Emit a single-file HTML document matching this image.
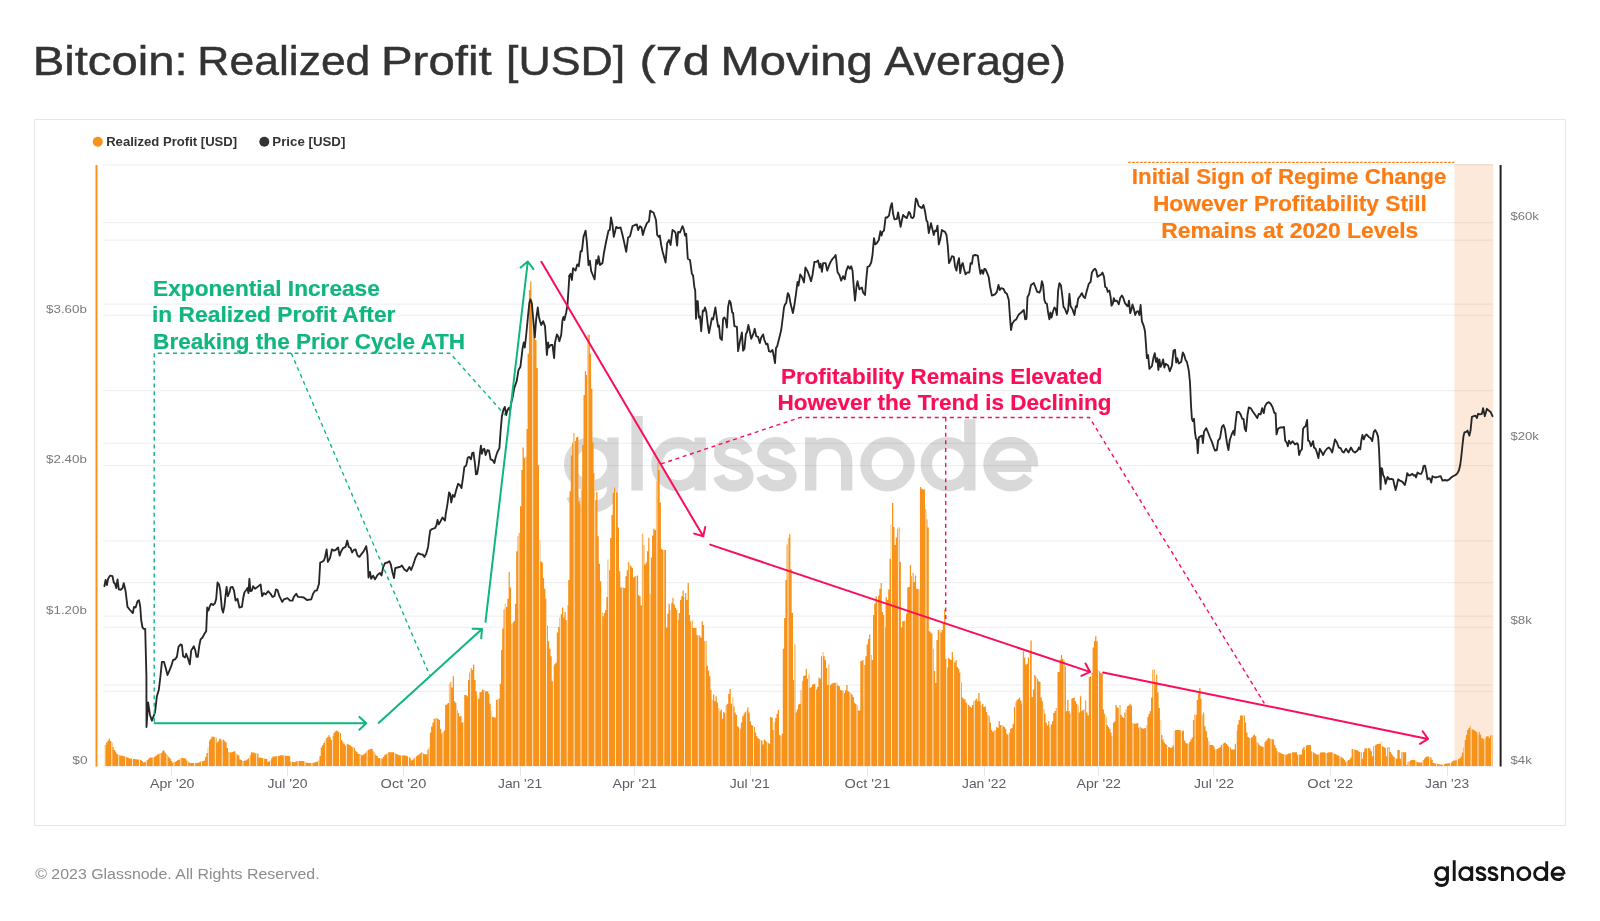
<!DOCTYPE html><html><head><meta charset="utf-8"><title>Bitcoin: Realized Profit</title>
<style>html,body{margin:0;padding:0;background:#fff;}body{width:1600px;height:921px;overflow:hidden;}svg{display:block;}text{font-family:"Liberation Sans",sans-serif;}</style></head><body>
<svg width="1600" height="921" viewBox="0 0 1600 921">
<rect width="1600" height="921" fill="#fff"/>
<rect x="34.5" y="119.5" width="1531" height="706" fill="none" stroke="#e6e6e6" stroke-width="1"/>
<circle cx="97.8" cy="141.8" r="5" fill="#f7931a"/>
<circle cx="264.3" cy="141.8" r="5" fill="#333"/>
<rect x="1454.5" y="164" width="38.8" height="602" fill="#fde9d9"/>
<path d="M103,164.9H1493.5M103,222.7H1493.5M103,240.1H1493.5M103,304.1H1493.5M103,315.3H1493.5M103,390.5H1493.5M103,443.3H1493.5M103,465.7H1493.5M103,540.9H1493.5M103,582.5H1493.5M103,616.1H1493.5M103,627.3H1493.5M103,685H1493.5M103,691.3H1493.5M103,766.5H1493.5" stroke="#000" stroke-opacity="0.06" stroke-width="1.25" fill="none"/>
<path d="M171.5,766V776M287.5,766V776M403.5,766V776M520.5,766V776M634.5,766V776M750.5,766V776M867.5,766V776M984.5,766V776M1098.5,766V776M1213.5,766V776M1330.5,766V776M1447.5,766V776" stroke="#e6e6e6" stroke-width="1" fill="none"/>
<g opacity="0.15" stroke="#000" stroke-width="11.4" fill="none" stroke-linejoin="round" transform="translate(0,0.6)"><path d="M569.7,463.7a21.6,21.6 0 1 0 43.2,0a21.6,21.6 0 1 0 -43.2,0M612.9,437V486C612.9,499.5 603,506.3 591.3,506.3C582,506.3 575,502 571.5,495M637.1,415.5V490M656.9,463.7a21.6,21.6 0 1 0 43.2,0a21.6,21.6 0 1 0 -43.2,0M700.1,437V490M747.4,452.5C744.6,445.5 738.6,442.2 733.1,442.2C724.6,442.2 719.6,446.5 719.6,452.2C719.6,458.5 724.6,461 733.6,463.7C742.6,466.4 747.9,469 747.9,475.5C747.9,481.5 742.1,485.3 733.6,485.3C726.1,485.3 721.1,482 718.6,475.3M790.5,452.5C787.8,445.5 781.8,442.2 776.2,442.2C767.8,442.2 762.8,446.5 762.8,452.2C762.8,458.5 767.8,461 776.8,463.7C785.8,466.4 791,469 791,475.5C791,481.5 785.2,485.3 776.8,485.3C769.2,485.3 764.2,482 761.8,475.3M810.7,437V490M810.7,462C810.7,449 818,442.7 828.7,442.7C840,442.7 846.7,450 846.7,462V490M865.9,463.7a21.6,21.6 0 1 0 43.2,0a21.6,21.6 0 1 0 -43.2,0M926.3,463.7a21.6,21.6 0 1 0 43.2,0a21.6,21.6 0 1 0 -43.2,0M969.8,418.7V490M990.1,465.7H1031.3M1032.3,465.7A21.6,21.6 0 1 0 1028.4,476.1"/></g>
<clipPath id="bc"><path d="M104.8,766V745H106.1V742.4H107.4V740.5H108.7V738.5H109.9V741H111.2V742.5H112.5V747H113.7V750H115V751.4H116.3V754H117.5V754.5H118.8V755.3H120.1V755.5H121.4V755.8H122.6V756.1H123.9V756.5H125.2V756.8H126.4V757.3H127.7V757.8H129V758.5H130.2V758.6H131.5V758.8H132.8V758.9H134V759.1H135.3V759.2H136.6V759.4H137.9V759.6H139.1V759.8H140.4V760H141.7V761H142.9V762.5H144.2V761.9H145.5V761.5H146.7V759.9H148V758.7H149.3V757.5H150.6V757.5H151.8V757.5H153.1V757.5H154.4V756.5H155.6V755.4H156.9V754.4H158.2V753.9H159.4V753.5H160.7V753.1H162V751.3H163.2V750.3H164.5V752.5H165.8V754.3H167.1V755.6H168.3V757.3H169.6V758.5H170.9V760.9H172.1V762.5H173.4V762.2H174.7V762H175.9V760.9H177.2V760H178.5V759.4H179.8V758.4H181V757.8H182.3V758.1H183.6V758.3H184.8V758.5H186.1V760.6H187.4V761.5H188.6V762.6H189.9V763.1H191.2V763.1H192.4V763.1H193.7V763.1H195V763.1H196.3V763.1H197.5V762.8H198.8V762.3H200.1V761.5H201.3V761.3H202.6V760.9H203.9V760.6H205.1V757H206.4V753H207.7V747.5H209V740.6H210.2V738.7H211.5V736.5H212.8V736.8H214V737.2H215.3V737.5H216.6V742.5H217.8V740.9H219.1V738.5H220.4V739.6H221.6V740.6H222.9V739.4H224.2V741.2H225.5V742.5H226.7V748.1H228V751.9H229.3V752.2H230.5V752.5H231.8V752H233.1V751.5H234.3V751.2H235.6V753.8H236.9V754.7H238.2V755.6H239.4V759.4H240.7V760.1H242V761.2H243.2V760.9H244.5V760.5H245.8V760.2H247V759.3H248.3V758.1H249.6V755.5H250.8V752.2H252.1V752.4H253.4V752.5H254.7V753.5H255.9V753.5H257.2V753.5H258.5V757.5H259.7V757.7H261V757.9H262.3V758.1H263.5V758.5H264.8V758.8H266.1V759H267.4V761.9H268.6V761.3H269.9V760.6H271.2V758H272.4V756.5H273.7V756.4H275V756.3H276.2V756.2H277.5V756.1H278.8V755.7H280.1V755.2H281.3V755.3H282.6V755.4H283.9V755.6H285.1V755.7H286.4V755.9H287.7V756.1H288.9V756.2H290.2V761.5H291.5V761.8H292.7V762.1H294V762.2H295.3V761.6H296.6V761H297.8V761H299.1V761H300.4V761H301.6V761H302.9V761H304.2V761.7H305.4V762.8H306.7V762.8H308V762.9H309.3V763H310.5V763H311.8V763.1H313.1V762.7H314.3V762.3H315.6V761.9H316.9V761.4H318.1V760.6H319.4V755.9H320.7V747.5H321.9V745.2H323.2V743.1H324.5V740.9H325.8V738.1H327V737.2H328.3V735.2H329.6V737.3H330.8V740H332.1V735.9H333.4V733.1H334.6V731.6H335.9V730.6H337.2V731.2H338.5V732.2H339.7V733.1H341V740H342.3V742H343.5V743.8H344.8V745.6H346.1V744.5H347.3V743.8H348.6V745H349.9V745.6H351.1V746.6H352.4V747.4H353.7V747.8H355V750.8H356.2V751.9H357.5V753.8H358.8V754H360V754.5H361.3V755.2H362.6V754.8H363.8V753.8H365.1V752.8H366.4V751.2H367.7V749.8H368.9V749.4H370.2V749H371.5V748.8H372.7V751.2H374V752.6H375.3V755H376.5V756.1H377.8V758.1H379.1V758.2H380.3V758.3H381.6V758.5H382.9V757.1H384.2V755H385.4V754.2H386.7V753.3H388V752.2H389.2V752.2H390.5V752.2H391.8V752.2H393V752.2H394.3V753.3H395.6V754H396.9V754.5H398.1V755.1H399.4V755.6H400.7V755.5H401.9V755.4H403.2V755.2H404.5V755.6H405.7V756H407V756.2H408.3V757.3H409.6V758.1H410.8V760.6H412.1V759.8H413.4V758.5H414.6V757.5H415.9V756.2H417.2V755.2H418.4V754.4H419.7V753.3H421V752.2H422.2V753H423.5V754H424.8V754.2H426.1V754.4H427.3V749.7H428.6V747.5H429.9V732.5H431.1V726.4H432.4V722.5H433.7V718.8H434.9V718.4H436.2V718.1H437.5V719.1H438.8V720H440V728.8H441.3V733.8H442.6V732.1H443.8V730.6H445.1V705H446.4V704.2H447.6V703.1H448.9V683.8H450.2V681.9H451.4V687.5H452.7V676.2H454V701.2H455.3V703.1H456.5V710H457.8V713.1H459.1V716.2H460.3V716.2H461.6V722.5H462.9V721.9H464.1V695H465.4V695H466.7V696.2H468V680H469.2V672.5H470.5V668.1H471.8V670H473V664.4H474.3V680H475.6V691.2H476.8V695.7H478.1V698.8H479.4V692.5H480.6V691.7H481.9V689.4H483.2V690.1H484.5V691.2H485.7V691.2H487V691.2H488.3V693.8H489.5V703.8H490.8V711.2H492.1V716.9H493.3V717.2H494.6V717.5H495.9V700H497.2V699.5H498.4V698.8H499.7V683.8H501V650H502.2V628.6H503.5V609.4H504.8V603.8H506V606.9H507.3V598.8H508.6V572H509.8V587.5H511.1V623.8H512.4V622.5H513.7V621H514.9V603.8H516.2V551.2H517.5V536.2H518.7V533.1H520V506.2H521.3V470H522.5V447.5H523.8V458H525.1V456.9H526.4V429H527.6V353.8H528.9V290H530.2V281.2H531.4V300H532.7V320H534V337.5H535.2V340H536.5V368H537.8V465H539V540H540.3V561.2H541.6V562.5H542.9V578H544.1V588.8H545.4V598.8H546.7V625.6H547.9V641.2H549.2V648.8H550.5V656.2H551.7V681.2H553V666.2H554.3V663.9H555.6V662.5H556.8V632.5H558.1V626.9H559.4V617.5H560.6V614.2H561.9V607.5H563.2V617.4H564.4V611.9H565.7V620H567V605.6H568.2V580H569.5V491.2H570.8V455.6H572.1V442.5H573.3V433.1H574.6V441H575.9V437.5H577.1V436.8H578.4V501.2H579.7V503.8H580.9V490H582.2V445H583.5V395H584.8V371.2H586V375H587.3V335H588.6V334.4H589.8V353.8H591.1V388.8H592.4V442.5H593.6V473H594.9V500H596.2V492H597.5V536.2H598.7V563.8H600V581.2H601.3V612.5H602.5V616.2H603.8V613.1H605.1V610H606.3V596.9H607.6V559.4H608.9V570H610.1V538.1H611.4V515H612.7V493.1H614V487.5H615.2V491.9H616.5V492.5H617.8V527.5H619V571.2H620.3V587.5H621.6V587.6H622.8V587.8H624.1V588H625.4V576.2H626.7V570.3H627.9V561.9H629.2V564.4H630.5V566.2H631.7V568H633V577.5H634.3V576.6H635.5V576H636.8V575.6H638.1V595H639.3V596.2H640.6V605.4H641.9V533.8H643.2V545H644.4V564.4H645.7V562.5H647V551.2H648.2V538.1H649.5V594H650.8V557.5H652V535.6H653.3V528.8H654.6V530H655.9V481.2H657.1V462H658.4V470H659.7V502.5H660.9V548.8H662.2V550H663.5V550H664.7V550H666V627.5H667.3V613.8H668.5V603.8H669.8V610H671.1V603H672.4V598.1H673.6V604.4H674.9V607.8H676.2V610H677.4V620H678.7V613.1H680V600H681.2V596.2H682.5V590.6H683.8V597.5H685.1V593.1H686.3V600H687.6V583.1H688.9V615H690.1V621.2H691.4V620.6H692.7V628.1H693.9V628.1H695.2V628.1H696.5V635H697.7V635.4H699V635.6H700.3V637.5H701.6V621.2H702.8V625H704.1V641.2H705.4V641.2H706.6V665.7H707.9V670.6H709.2V676.2H710.4V690H711.7V700H713V694.4H714.3V701.2H715.5V696.2H716.8V702.5H718.1V708.1H719.3V711.2H720.6V709.4H721.9V718.8H723.1V711.9H724.4V713H725.7V705H726.9V703.8H728.2V693.8H729.5V689H730.8V703.8H732V697.5H733.3V706.2H734.6V712.5H735.8V715H737.1V726.2H738.4V727.6H739.6V728.8H740.9V722.5H742.2V716.2H743.5V713.8H744.7V711.8H746V710H747.3V707.2H748.5V712.5H749.8V721.2H751.1V725H752.3V725.8H753.6V726.9H754.9V732.5H756.2V736H757.4V738.1H758.7V739.3H760V740.2H761.2V740.6H762.5V744.4H763.8V739.4H765V740.5H766.3V741.9H767.6V742.9H768.8V743.8H770.1V716.9H771.4V717.5H772.7V730H773.9V721.9H775.2V718.1H776.5V713.8H777.7V710H779V735H780.3V736.2H781.5V733.8H782.8V648.8H784.1V618.1H785.4V579.9H786.6V544.6H787.9V538H789.2V534H790.4V569H791.7V613.1H793V680H794.2V644.4H795.5V712.5H796.8V709.4H798V704.4H799.3V703.8H800.6V690H801.9V681.2H803.1V676H804.4V675.6H805.7V668.8H806.9V678.8H808.2V674.4H809.5V688.1H810.7V686.9H812V684.4H813.3V684.1H814.6V683.8H815.8V689.4H817.1V686.9H818.4V677.5H819.6V678.8H820.9V656.2H822.2V651.9H823.4V656.2H824.7V660H826V668.1H827.2V685H828.5V664.4H829.8V685H831.1V683.8H832.3V683.2H833.6V682.8H834.9V682.8H836.1V682.8H837.4V685.6H838.7V686.2H839.9V690H841.2V690.4H842.5V690.6H843.8V693.1H845V690.3H846.3V685H847.6V691.2H848.8V691.9H850.1V692.9H851.4V694.4H852.6V696.9H853.9V702.5H855.2V703.9H856.4V705H857.7V710.6H859V710.6H860.3V661.2H861.5V660.4H862.8V660H864.1V665H865.3V656.2H866.6V644.4H867.9V639.1H869.1V634.4H870.4V655H871.7V660H873V615H874.2V603.8H875.5V596.2H876.8V601H878V595.6H879.3V588.8H880.6V583.1H881.8V612H883.1V615H884.4V627.5H885.6V596.9H886.9V600H888.2V589.4H889.5V558.8H890.7V524.4H892V503.1H893.3V526.9H894.5V545H895.8V537.5H897.1V528.8H898.3V527.5H899.6V562H900.9V627.5H902.2V621.2H903.4V620.9H904.7V620.6H906V613.8H907.2V587.5H908.5V587H909.8V565H911V576H912.3V573.1H913.6V581.9H914.9V575.6H916.1V588.8H917.4V589.1H918.7V589.4H919.9V486.9H921.2V488.8H922.5V489.4H923.7V489.4H925V509.4H926.3V519.4H927.5V527.5H928.8V631.2H930.1V632.6H931.4V633.8H932.6V648.8H933.9V671H935.2V683.1H936.4V640H937.7V630.1H939V628.8H940.2V632.5H941.5V630H942.8V622.5H944.1V609.4H945.3V658.8H946.6V667.5H947.9V658.1H949.1V659.1H950.4V660H951.7V651.9H952.9V657.2H954.2V662.5H955.5V660H956.7V667H958V668.8H959.3V672.5H960.6V682.5H961.8V697.5H963.1V698.8H964.4V699.4H965.6V702.5H966.9V703.8H968.2V705H969.4V706.5H970.7V707.5H972V705H973.3V701.2H974.5V700.2H975.8V698.8H977.1V701.2H978.3V693.1H979.6V701.2H980.9V705.6H982.1V703.8H983.4V706.9H984.7V706.2H985.9V711.9H987.2V715H988.5V716.2H989.8V722.5H991V730H992.3V731.9H993.6V730.8H994.8V730H996.1V726.9H997.4V728.1H998.6V721.2H999.9V725H1001.2V725H1002.5V726.2H1003.7V726.9H1005V728.8H1006.3V733.8H1007.5V735H1008.8V732.7H1010.1V728.8H1011.3V728.1H1012.6V723.8H1013.9V706.9H1015.1V701.9H1016.4V700H1017.7V698.9H1019V697.5H1020.2V700.6H1021.5V703.8H1022.8V651.2H1024V657.5H1025.3V664.4H1026.6V663.8H1027.8V657.5H1029.1V653.8H1030.4V640.6H1031.7V696.9H1032.9V689.4H1034.2V675H1035.5V676.7H1036.7V678.8H1038V681.2H1039.3V681.9H1040.5V697.5H1041.8V701.2H1043.1V709.2H1044.4V713.8H1045.6V722.7H1046.9V725.6H1048.2V721.2H1049.4V727.5H1050.7V724.4H1052V721.2H1053.2V713.1H1054.5V711.1H1055.8V708.1H1057V671.9H1058.3V672H1059.6V659.4H1060.9V655H1062.1V658.8H1063.4V660H1064.7V666.2H1065.9V711.2H1067.2V700H1068.5V711H1069.7V713.8H1071V698.8H1072.3V698.1H1073.6V697.5H1074.8V701.2H1076.1V703.8H1077.4V705.6H1078.6V712.5H1079.9V696.2H1081.2V711.2H1082.4V710H1083.7V709.4H1085V700.6H1086.2V712.5H1087.5V715.6H1088.8V676.9H1090.1V676.2H1091.3V673.1H1092.6V647.5H1093.9V641.2H1095.1V636.2H1096.4V641.2H1097.7V670H1098.9V671.2H1100.2V673H1101.5V673.8H1102.8V709.4H1104V713.8H1105.3V717.5H1106.6V725H1107.8V726.9H1109.1V728.8H1110.4V732.5H1111.6V736.2H1112.9V722.8H1114.2V721.2H1115.4V705H1116.7V707.5H1118V707.9H1119.3V705H1120.5V715H1121.8V717H1123.1V718.1H1124.3V712.5H1125.6V709.4H1126.9V706.2H1128.1V705.4H1129.4V703.8H1130.7V705.6H1132V723.1H1133.2V723.5H1134.5V723.8H1135.8V723.4H1137V723.1H1138.3V728.1H1139.6V726.9H1140.8V727.7H1142.1V728.8H1143.4V728.4H1144.6V728.1H1145.9V725H1147.2V716.9H1148.5V714H1149.7V711.2H1151V697.5H1152.3V670H1153.5V669.4H1154.8V683.1H1156.1V674.4H1157.3V692.5H1158.6V708.1H1159.9V720H1161.2V735H1162.4V739.4H1163.7V742.5H1165V744.1H1166.2V745H1167.5V746.9H1168.8V747.2H1170V748.1H1171.3V747.2H1172.6V745.6H1173.8V731.2H1175.1V730H1176.4V730H1177.7V730H1178.9V730H1180.2V730.6H1181.5V731.2H1182.7V730.6H1184V740.4H1185.3V743.1H1186.5V743.4H1187.8V743.8H1189.1V741.9H1190.4V739.6H1191.6V737.5H1192.9V720H1194.2V714.4H1195.4V715H1196.7V700H1198V693.8H1199.2V688.1H1200.5V698.8H1201.8V715H1203.1V712.5H1204.3V726.2H1205.6V731.2H1206.9V737.5H1208.1V741.2H1209.4V745H1210.7V745H1211.9V745H1213.2V746.2H1214.5V749.4H1215.7V749.2H1217V748.8H1218.3V748H1219.6V746.9H1220.8V745H1222.1V744.1H1223.4V743.1H1224.6V742.5H1225.9V744H1227.2V745.6H1228.4V746.8H1229.7V747.5H1231V749.4H1232.3V749.4H1233.5V749.4H1234.8V743.8H1236.1V731.2H1237.3V724.4H1238.6V720H1239.9V715.6H1241.1V715.6H1242.4V715.6H1243.7V715.6H1244.9V722.5H1246.2V732.5H1247.5V736.9H1248.8V738.1H1250V738.1H1251.3V737.2H1252.6V735.6H1253.8V734.4H1255.1V736.2H1256.4V741.9H1257.6V743.2H1258.9V745H1260.2V746.2H1261.5V746.5H1262.7V746.9H1264V742.5H1265.3V741H1266.5V739.4H1267.8V738.1H1269.1V738.5H1270.3V739H1271.6V739.2H1272.9V739.4H1274.1V745H1275.4V748.1H1276.7V751.2H1278V752.1H1279.2V752.5H1280.5V753.3H1281.8V754H1283V754.2H1284.3V754.5H1285.6V754.8H1286.8V754.3H1288.1V753.5H1289.4V753.3H1290.7V752.9H1291.9V752.2H1293.2V752.2H1294.5V752.2H1295.7V752.2H1297V754.8H1298.3V754.7H1299.5V754.5H1300.8V754.4H1302.1V748.8H1303.3V746.9H1304.6V750H1305.9V745.2H1307.2V745.2H1308.4V745.1H1309.7V745H1311V751.2H1312.2V752H1313.5V752.8H1314.8V753.8H1316V754.4H1317.3V754.6H1318.6V754.8H1319.9V752.5H1321.1V752.4H1322.4V752.3H1323.7V752.2H1324.9V753.1H1326.2V752.9H1327.5V752.6H1328.7V752.2H1330V752.2H1331.3V752.2H1332.5V752.7H1333.8V753.8H1335.1V754.1H1336.4V755H1337.6V755.4H1338.9V756.2H1340.2V756.7H1341.4V757.5H1342.7V758.6H1344V760H1345.2V761.9H1346.5V761H1347.8V760H1349.1V759.4H1350.3V757.5H1351.6V749H1352.9V749.2H1354.1V749.8H1355.4V750H1356.7V750.2H1357.9V751.2H1359.2V751.9H1360.5V752.5H1361.8V758.8H1363V751.9H1364.3V748.5H1365.6V748.2H1366.8V748.1H1368.1V747.7H1369.4V748.8H1370.6V751.3H1371.9V756.2H1373.2V746.2H1374.4V745.5H1375.7V744.4H1377V744H1378.3V743.8H1379.5V743.8H1380.8V741.6H1382.1V746.2H1383.3V747.1H1384.6V748.1H1385.9V756.2H1387.1V747.2H1388.4V747.2H1389.7V751.9H1391V753.8H1392.2V755.6H1393.5V756.9H1394.8V757.9H1396V758.8H1397.3V750H1398.6V750H1399.8V758.8H1401.1V752.2H1402.4V752.2H1403.6V752.2H1404.9V752.2H1406.2V765.2H1407.5V761.9H1408.7V761.1H1410V760.6H1411.3V760.1H1412.5V759.8H1413.8V760H1415.1V760.7H1416.3V761.9H1417.6V762.2H1418.9V762.5H1420.2V762.5H1421.4V762.5H1422.7V760H1424V758.6H1425.2V756.9H1426.5V756.6H1427.8V756.5H1429V757.1H1430.3V757.5H1431.6V760H1432.8V763.1H1434.1V763.3H1435.4V763.5H1436.7V763.7H1437.9V764H1439.2V764.4H1440.5V764.5H1441.7V764.8H1443V764.4H1444.3V763.9H1445.5V763.5H1446.8V763.4H1448.1V763.3H1449.4V763.1H1450.6V762.4H1451.9V761.2H1453.2V760.6H1454.4V760.5H1455.7V760.2H1457V760H1458.2V759H1459.5V758.1H1460.8V756.2H1462V752.5H1463.3V747.5H1464.6V740H1465.9V735H1467.1V730H1468.4V728.1H1469.7V726.2H1470.9V728.8H1472.2V729.4H1473.5V730H1474.7V731H1476V731.9H1477.3V734.4H1478.6V731.9H1479.8V734.4H1481.1V738.1H1482.4V738.7H1483.6V739.4H1484.9V737.4H1486.2V736.2H1487.4V736.2H1488.7V738.1H1490V735.6H1491.2V735H1492.5V766Z"/></clipPath>
<path d="M104.8,766V745H106.1V742.4H107.4V740.5H108.7V738.5H109.9V741H111.2V742.5H112.5V747H113.7V750H115V751.4H116.3V754H117.5V754.5H118.8V755.3H120.1V755.5H121.4V755.8H122.6V756.1H123.9V756.5H125.2V756.8H126.4V757.3H127.7V757.8H129V758.5H130.2V758.6H131.5V758.8H132.8V758.9H134V759.1H135.3V759.2H136.6V759.4H137.9V759.6H139.1V759.8H140.4V760H141.7V761H142.9V762.5H144.2V761.9H145.5V761.5H146.7V759.9H148V758.7H149.3V757.5H150.6V757.5H151.8V757.5H153.1V757.5H154.4V756.5H155.6V755.4H156.9V754.4H158.2V753.9H159.4V753.5H160.7V753.1H162V751.3H163.2V750.3H164.5V752.5H165.8V754.3H167.1V755.6H168.3V757.3H169.6V758.5H170.9V760.9H172.1V762.5H173.4V762.2H174.7V762H175.9V760.9H177.2V760H178.5V759.4H179.8V758.4H181V757.8H182.3V758.1H183.6V758.3H184.8V758.5H186.1V760.6H187.4V761.5H188.6V762.6H189.9V763.1H191.2V763.1H192.4V763.1H193.7V763.1H195V763.1H196.3V763.1H197.5V762.8H198.8V762.3H200.1V761.5H201.3V761.3H202.6V760.9H203.9V760.6H205.1V757H206.4V753H207.7V747.5H209V740.6H210.2V738.7H211.5V736.5H212.8V736.8H214V737.2H215.3V737.5H216.6V742.5H217.8V740.9H219.1V738.5H220.4V739.6H221.6V740.6H222.9V739.4H224.2V741.2H225.5V742.5H226.7V748.1H228V751.9H229.3V752.2H230.5V752.5H231.8V752H233.1V751.5H234.3V751.2H235.6V753.8H236.9V754.7H238.2V755.6H239.4V759.4H240.7V760.1H242V761.2H243.2V760.9H244.5V760.5H245.8V760.2H247V759.3H248.3V758.1H249.6V755.5H250.8V752.2H252.1V752.4H253.4V752.5H254.7V753.5H255.9V753.5H257.2V753.5H258.5V757.5H259.7V757.7H261V757.9H262.3V758.1H263.5V758.5H264.8V758.8H266.1V759H267.4V761.9H268.6V761.3H269.9V760.6H271.2V758H272.4V756.5H273.7V756.4H275V756.3H276.2V756.2H277.5V756.1H278.8V755.7H280.1V755.2H281.3V755.3H282.6V755.4H283.9V755.6H285.1V755.7H286.4V755.9H287.7V756.1H288.9V756.2H290.2V761.5H291.5V761.8H292.7V762.1H294V762.2H295.3V761.6H296.6V761H297.8V761H299.1V761H300.4V761H301.6V761H302.9V761H304.2V761.7H305.4V762.8H306.7V762.8H308V762.9H309.3V763H310.5V763H311.8V763.1H313.1V762.7H314.3V762.3H315.6V761.9H316.9V761.4H318.1V760.6H319.4V755.9H320.7V747.5H321.9V745.2H323.2V743.1H324.5V740.9H325.8V738.1H327V737.2H328.3V735.2H329.6V737.3H330.8V740H332.1V735.9H333.4V733.1H334.6V731.6H335.9V730.6H337.2V731.2H338.5V732.2H339.7V733.1H341V740H342.3V742H343.5V743.8H344.8V745.6H346.1V744.5H347.3V743.8H348.6V745H349.9V745.6H351.1V746.6H352.4V747.4H353.7V747.8H355V750.8H356.2V751.9H357.5V753.8H358.8V754H360V754.5H361.3V755.2H362.6V754.8H363.8V753.8H365.1V752.8H366.4V751.2H367.7V749.8H368.9V749.4H370.2V749H371.5V748.8H372.7V751.2H374V752.6H375.3V755H376.5V756.1H377.8V758.1H379.1V758.2H380.3V758.3H381.6V758.5H382.9V757.1H384.2V755H385.4V754.2H386.7V753.3H388V752.2H389.2V752.2H390.5V752.2H391.8V752.2H393V752.2H394.3V753.3H395.6V754H396.9V754.5H398.1V755.1H399.4V755.6H400.7V755.5H401.9V755.4H403.2V755.2H404.5V755.6H405.7V756H407V756.2H408.3V757.3H409.6V758.1H410.8V760.6H412.1V759.8H413.4V758.5H414.6V757.5H415.9V756.2H417.2V755.2H418.4V754.4H419.7V753.3H421V752.2H422.2V753H423.5V754H424.8V754.2H426.1V754.4H427.3V749.7H428.6V747.5H429.9V732.5H431.1V726.4H432.4V722.5H433.7V718.8H434.9V718.4H436.2V718.1H437.5V719.1H438.8V720H440V728.8H441.3V733.8H442.6V732.1H443.8V730.6H445.1V705H446.4V704.2H447.6V703.1H448.9V683.8H450.2V681.9H451.4V687.5H452.7V676.2H454V701.2H455.3V703.1H456.5V710H457.8V713.1H459.1V716.2H460.3V716.2H461.6V722.5H462.9V721.9H464.1V695H465.4V695H466.7V696.2H468V680H469.2V672.5H470.5V668.1H471.8V670H473V664.4H474.3V680H475.6V691.2H476.8V695.7H478.1V698.8H479.4V692.5H480.6V691.7H481.9V689.4H483.2V690.1H484.5V691.2H485.7V691.2H487V691.2H488.3V693.8H489.5V703.8H490.8V711.2H492.1V716.9H493.3V717.2H494.6V717.5H495.9V700H497.2V699.5H498.4V698.8H499.7V683.8H501V650H502.2V628.6H503.5V609.4H504.8V603.8H506V606.9H507.3V598.8H508.6V572H509.8V587.5H511.1V623.8H512.4V622.5H513.7V621H514.9V603.8H516.2V551.2H517.5V536.2H518.7V533.1H520V506.2H521.3V470H522.5V447.5H523.8V458H525.1V456.9H526.4V429H527.6V353.8H528.9V290H530.2V281.2H531.4V300H532.7V320H534V337.5H535.2V340H536.5V368H537.8V465H539V540H540.3V561.2H541.6V562.5H542.9V578H544.1V588.8H545.4V598.8H546.7V625.6H547.9V641.2H549.2V648.8H550.5V656.2H551.7V681.2H553V666.2H554.3V663.9H555.6V662.5H556.8V632.5H558.1V626.9H559.4V617.5H560.6V614.2H561.9V607.5H563.2V617.4H564.4V611.9H565.7V620H567V605.6H568.2V580H569.5V491.2H570.8V455.6H572.1V442.5H573.3V433.1H574.6V441H575.9V437.5H577.1V436.8H578.4V501.2H579.7V503.8H580.9V490H582.2V445H583.5V395H584.8V371.2H586V375H587.3V335H588.6V334.4H589.8V353.8H591.1V388.8H592.4V442.5H593.6V473H594.9V500H596.2V492H597.5V536.2H598.7V563.8H600V581.2H601.3V612.5H602.5V616.2H603.8V613.1H605.1V610H606.3V596.9H607.6V559.4H608.9V570H610.1V538.1H611.4V515H612.7V493.1H614V487.5H615.2V491.9H616.5V492.5H617.8V527.5H619V571.2H620.3V587.5H621.6V587.6H622.8V587.8H624.1V588H625.4V576.2H626.7V570.3H627.9V561.9H629.2V564.4H630.5V566.2H631.7V568H633V577.5H634.3V576.6H635.5V576H636.8V575.6H638.1V595H639.3V596.2H640.6V605.4H641.9V533.8H643.2V545H644.4V564.4H645.7V562.5H647V551.2H648.2V538.1H649.5V594H650.8V557.5H652V535.6H653.3V528.8H654.6V530H655.9V481.2H657.1V462H658.4V470H659.7V502.5H660.9V548.8H662.2V550H663.5V550H664.7V550H666V627.5H667.3V613.8H668.5V603.8H669.8V610H671.1V603H672.4V598.1H673.6V604.4H674.9V607.8H676.2V610H677.4V620H678.7V613.1H680V600H681.2V596.2H682.5V590.6H683.8V597.5H685.1V593.1H686.3V600H687.6V583.1H688.9V615H690.1V621.2H691.4V620.6H692.7V628.1H693.9V628.1H695.2V628.1H696.5V635H697.7V635.4H699V635.6H700.3V637.5H701.6V621.2H702.8V625H704.1V641.2H705.4V641.2H706.6V665.7H707.9V670.6H709.2V676.2H710.4V690H711.7V700H713V694.4H714.3V701.2H715.5V696.2H716.8V702.5H718.1V708.1H719.3V711.2H720.6V709.4H721.9V718.8H723.1V711.9H724.4V713H725.7V705H726.9V703.8H728.2V693.8H729.5V689H730.8V703.8H732V697.5H733.3V706.2H734.6V712.5H735.8V715H737.1V726.2H738.4V727.6H739.6V728.8H740.9V722.5H742.2V716.2H743.5V713.8H744.7V711.8H746V710H747.3V707.2H748.5V712.5H749.8V721.2H751.1V725H752.3V725.8H753.6V726.9H754.9V732.5H756.2V736H757.4V738.1H758.7V739.3H760V740.2H761.2V740.6H762.5V744.4H763.8V739.4H765V740.5H766.3V741.9H767.6V742.9H768.8V743.8H770.1V716.9H771.4V717.5H772.7V730H773.9V721.9H775.2V718.1H776.5V713.8H777.7V710H779V735H780.3V736.2H781.5V733.8H782.8V648.8H784.1V618.1H785.4V579.9H786.6V544.6H787.9V538H789.2V534H790.4V569H791.7V613.1H793V680H794.2V644.4H795.5V712.5H796.8V709.4H798V704.4H799.3V703.8H800.6V690H801.9V681.2H803.1V676H804.4V675.6H805.7V668.8H806.9V678.8H808.2V674.4H809.5V688.1H810.7V686.9H812V684.4H813.3V684.1H814.6V683.8H815.8V689.4H817.1V686.9H818.4V677.5H819.6V678.8H820.9V656.2H822.2V651.9H823.4V656.2H824.7V660H826V668.1H827.2V685H828.5V664.4H829.8V685H831.1V683.8H832.3V683.2H833.6V682.8H834.9V682.8H836.1V682.8H837.4V685.6H838.7V686.2H839.9V690H841.2V690.4H842.5V690.6H843.8V693.1H845V690.3H846.3V685H847.6V691.2H848.8V691.9H850.1V692.9H851.4V694.4H852.6V696.9H853.9V702.5H855.2V703.9H856.4V705H857.7V710.6H859V710.6H860.3V661.2H861.5V660.4H862.8V660H864.1V665H865.3V656.2H866.6V644.4H867.9V639.1H869.1V634.4H870.4V655H871.7V660H873V615H874.2V603.8H875.5V596.2H876.8V601H878V595.6H879.3V588.8H880.6V583.1H881.8V612H883.1V615H884.4V627.5H885.6V596.9H886.9V600H888.2V589.4H889.5V558.8H890.7V524.4H892V503.1H893.3V526.9H894.5V545H895.8V537.5H897.1V528.8H898.3V527.5H899.6V562H900.9V627.5H902.2V621.2H903.4V620.9H904.7V620.6H906V613.8H907.2V587.5H908.5V587H909.8V565H911V576H912.3V573.1H913.6V581.9H914.9V575.6H916.1V588.8H917.4V589.1H918.7V589.4H919.9V486.9H921.2V488.8H922.5V489.4H923.7V489.4H925V509.4H926.3V519.4H927.5V527.5H928.8V631.2H930.1V632.6H931.4V633.8H932.6V648.8H933.9V671H935.2V683.1H936.4V640H937.7V630.1H939V628.8H940.2V632.5H941.5V630H942.8V622.5H944.1V609.4H945.3V658.8H946.6V667.5H947.9V658.1H949.1V659.1H950.4V660H951.7V651.9H952.9V657.2H954.2V662.5H955.5V660H956.7V667H958V668.8H959.3V672.5H960.6V682.5H961.8V697.5H963.1V698.8H964.4V699.4H965.6V702.5H966.9V703.8H968.2V705H969.4V706.5H970.7V707.5H972V705H973.3V701.2H974.5V700.2H975.8V698.8H977.1V701.2H978.3V693.1H979.6V701.2H980.9V705.6H982.1V703.8H983.4V706.9H984.7V706.2H985.9V711.9H987.2V715H988.5V716.2H989.8V722.5H991V730H992.3V731.9H993.6V730.8H994.8V730H996.1V726.9H997.4V728.1H998.6V721.2H999.9V725H1001.2V725H1002.5V726.2H1003.7V726.9H1005V728.8H1006.3V733.8H1007.5V735H1008.8V732.7H1010.1V728.8H1011.3V728.1H1012.6V723.8H1013.9V706.9H1015.1V701.9H1016.4V700H1017.7V698.9H1019V697.5H1020.2V700.6H1021.5V703.8H1022.8V651.2H1024V657.5H1025.3V664.4H1026.6V663.8H1027.8V657.5H1029.1V653.8H1030.4V640.6H1031.7V696.9H1032.9V689.4H1034.2V675H1035.5V676.7H1036.7V678.8H1038V681.2H1039.3V681.9H1040.5V697.5H1041.8V701.2H1043.1V709.2H1044.4V713.8H1045.6V722.7H1046.9V725.6H1048.2V721.2H1049.4V727.5H1050.7V724.4H1052V721.2H1053.2V713.1H1054.5V711.1H1055.8V708.1H1057V671.9H1058.3V672H1059.6V659.4H1060.9V655H1062.1V658.8H1063.4V660H1064.7V666.2H1065.9V711.2H1067.2V700H1068.5V711H1069.7V713.8H1071V698.8H1072.3V698.1H1073.6V697.5H1074.8V701.2H1076.1V703.8H1077.4V705.6H1078.6V712.5H1079.9V696.2H1081.2V711.2H1082.4V710H1083.7V709.4H1085V700.6H1086.2V712.5H1087.5V715.6H1088.8V676.9H1090.1V676.2H1091.3V673.1H1092.6V647.5H1093.9V641.2H1095.1V636.2H1096.4V641.2H1097.7V670H1098.9V671.2H1100.2V673H1101.5V673.8H1102.8V709.4H1104V713.8H1105.3V717.5H1106.6V725H1107.8V726.9H1109.1V728.8H1110.4V732.5H1111.6V736.2H1112.9V722.8H1114.2V721.2H1115.4V705H1116.7V707.5H1118V707.9H1119.3V705H1120.5V715H1121.8V717H1123.1V718.1H1124.3V712.5H1125.6V709.4H1126.9V706.2H1128.1V705.4H1129.4V703.8H1130.7V705.6H1132V723.1H1133.2V723.5H1134.5V723.8H1135.8V723.4H1137V723.1H1138.3V728.1H1139.6V726.9H1140.8V727.7H1142.1V728.8H1143.4V728.4H1144.6V728.1H1145.9V725H1147.2V716.9H1148.5V714H1149.7V711.2H1151V697.5H1152.3V670H1153.5V669.4H1154.8V683.1H1156.1V674.4H1157.3V692.5H1158.6V708.1H1159.9V720H1161.2V735H1162.4V739.4H1163.7V742.5H1165V744.1H1166.2V745H1167.5V746.9H1168.8V747.2H1170V748.1H1171.3V747.2H1172.6V745.6H1173.8V731.2H1175.1V730H1176.4V730H1177.7V730H1178.9V730H1180.2V730.6H1181.5V731.2H1182.7V730.6H1184V740.4H1185.3V743.1H1186.5V743.4H1187.8V743.8H1189.1V741.9H1190.4V739.6H1191.6V737.5H1192.9V720H1194.2V714.4H1195.4V715H1196.7V700H1198V693.8H1199.2V688.1H1200.5V698.8H1201.8V715H1203.1V712.5H1204.3V726.2H1205.6V731.2H1206.9V737.5H1208.1V741.2H1209.4V745H1210.7V745H1211.9V745H1213.2V746.2H1214.5V749.4H1215.7V749.2H1217V748.8H1218.3V748H1219.6V746.9H1220.8V745H1222.1V744.1H1223.4V743.1H1224.6V742.5H1225.9V744H1227.2V745.6H1228.4V746.8H1229.7V747.5H1231V749.4H1232.3V749.4H1233.5V749.4H1234.8V743.8H1236.1V731.2H1237.3V724.4H1238.6V720H1239.9V715.6H1241.1V715.6H1242.4V715.6H1243.7V715.6H1244.9V722.5H1246.2V732.5H1247.5V736.9H1248.8V738.1H1250V738.1H1251.3V737.2H1252.6V735.6H1253.8V734.4H1255.1V736.2H1256.4V741.9H1257.6V743.2H1258.9V745H1260.2V746.2H1261.5V746.5H1262.7V746.9H1264V742.5H1265.3V741H1266.5V739.4H1267.8V738.1H1269.1V738.5H1270.3V739H1271.6V739.2H1272.9V739.4H1274.1V745H1275.4V748.1H1276.7V751.2H1278V752.1H1279.2V752.5H1280.5V753.3H1281.8V754H1283V754.2H1284.3V754.5H1285.6V754.8H1286.8V754.3H1288.1V753.5H1289.4V753.3H1290.7V752.9H1291.9V752.2H1293.2V752.2H1294.5V752.2H1295.7V752.2H1297V754.8H1298.3V754.7H1299.5V754.5H1300.8V754.4H1302.1V748.8H1303.3V746.9H1304.6V750H1305.9V745.2H1307.2V745.2H1308.4V745.1H1309.7V745H1311V751.2H1312.2V752H1313.5V752.8H1314.8V753.8H1316V754.4H1317.3V754.6H1318.6V754.8H1319.9V752.5H1321.1V752.4H1322.4V752.3H1323.7V752.2H1324.9V753.1H1326.2V752.9H1327.5V752.6H1328.7V752.2H1330V752.2H1331.3V752.2H1332.5V752.7H1333.8V753.8H1335.1V754.1H1336.4V755H1337.6V755.4H1338.9V756.2H1340.2V756.7H1341.4V757.5H1342.7V758.6H1344V760H1345.2V761.9H1346.5V761H1347.8V760H1349.1V759.4H1350.3V757.5H1351.6V749H1352.9V749.2H1354.1V749.8H1355.4V750H1356.7V750.2H1357.9V751.2H1359.2V751.9H1360.5V752.5H1361.8V758.8H1363V751.9H1364.3V748.5H1365.6V748.2H1366.8V748.1H1368.1V747.7H1369.4V748.8H1370.6V751.3H1371.9V756.2H1373.2V746.2H1374.4V745.5H1375.7V744.4H1377V744H1378.3V743.8H1379.5V743.8H1380.8V741.6H1382.1V746.2H1383.3V747.1H1384.6V748.1H1385.9V756.2H1387.1V747.2H1388.4V747.2H1389.7V751.9H1391V753.8H1392.2V755.6H1393.5V756.9H1394.8V757.9H1396V758.8H1397.3V750H1398.6V750H1399.8V758.8H1401.1V752.2H1402.4V752.2H1403.6V752.2H1404.9V752.2H1406.2V765.2H1407.5V761.9H1408.7V761.1H1410V760.6H1411.3V760.1H1412.5V759.8H1413.8V760H1415.1V760.7H1416.3V761.9H1417.6V762.2H1418.9V762.5H1420.2V762.5H1421.4V762.5H1422.7V760H1424V758.6H1425.2V756.9H1426.5V756.6H1427.8V756.5H1429V757.1H1430.3V757.5H1431.6V760H1432.8V763.1H1434.1V763.3H1435.4V763.5H1436.7V763.7H1437.9V764H1439.2V764.4H1440.5V764.5H1441.7V764.8H1443V764.4H1444.3V763.9H1445.5V763.5H1446.8V763.4H1448.1V763.3H1449.4V763.1H1450.6V762.4H1451.9V761.2H1453.2V760.6H1454.4V760.5H1455.7V760.2H1457V760H1458.2V759H1459.5V758.1H1460.8V756.2H1462V752.5H1463.3V747.5H1464.6V740H1465.9V735H1467.1V730H1468.4V728.1H1469.7V726.2H1470.9V728.8H1472.2V729.4H1473.5V730H1474.7V731H1476V731.9H1477.3V734.4H1478.6V731.9H1479.8V734.4H1481.1V738.1H1482.4V738.7H1483.6V739.4H1484.9V737.4H1486.2V736.2H1487.4V736.2H1488.7V738.1H1490V735.6H1491.2V735H1492.5V766Z" fill="#f7931a"/>
<path d="M104.9,160V767M111.8,160V767M118.7,160V767M125.6,160V767M132.5,160V767M139.4,160V767M146.3,160V767M153.2,160V767M160.1,160V767M167,160V767M173.9,160V767M180.8,160V767M187.7,160V767M194.6,160V767M201.5,160V767M208.4,160V767M215.3,160V767M222.2,160V767M229.1,160V767M236,160V767M242.9,160V767M249.8,160V767M256.7,160V767M263.6,160V767M270.5,160V767M277.4,160V767M284.3,160V767M291.2,160V767M298.1,160V767M305,160V767M311.9,160V767M318.8,160V767M325.7,160V767M332.6,160V767M339.5,160V767M346.4,160V767M353.3,160V767M360.2,160V767M367.1,160V767M374,160V767M380.9,160V767M387.8,160V767M394.7,160V767M401.6,160V767M408.5,160V767M415.4,160V767M422.3,160V767M429.2,160V767M436.1,160V767M443,160V767M449.9,160V767M456.8,160V767M463.7,160V767M470.6,160V767M477.5,160V767M484.4,160V767M491.3,160V767M498.2,160V767M505.1,160V767M512,160V767M518.9,160V767M525.8,160V767M532.7,160V767M539.6,160V767M546.5,160V767M553.4,160V767M560.3,160V767M567.2,160V767M574.1,160V767M581,160V767M587.9,160V767M594.8,160V767M601.7,160V767M608.6,160V767M615.5,160V767M622.4,160V767M629.3,160V767M636.2,160V767M643.1,160V767M650,160V767M656.9,160V767M663.8,160V767M670.7,160V767M677.6,160V767M684.5,160V767M691.4,160V767M698.3,160V767M705.2,160V767M712.1,160V767M719,160V767M725.9,160V767M732.8,160V767M739.7,160V767M746.6,160V767M753.5,160V767M760.4,160V767M767.3,160V767M774.2,160V767M781.1,160V767M788,160V767M794.9,160V767M801.8,160V767M808.7,160V767M815.6,160V767M822.5,160V767M829.4,160V767M836.3,160V767M843.2,160V767M850.1,160V767M857,160V767M863.9,160V767M870.8,160V767M877.7,160V767M884.6,160V767M891.5,160V767M898.4,160V767M905.3,160V767M912.2,160V767M919.1,160V767M926,160V767M932.9,160V767M939.8,160V767M946.7,160V767M953.6,160V767M960.5,160V767M967.4,160V767M974.3,160V767M981.2,160V767M988.1,160V767M995,160V767M1001.9,160V767M1008.8,160V767M1015.7,160V767M1022.6,160V767M1029.5,160V767M1036.4,160V767M1043.3,160V767M1050.2,160V767M1057.1,160V767M1064,160V767M1070.9,160V767M1077.8,160V767M1084.7,160V767M1091.6,160V767M1098.5,160V767M1105.4,160V767M1112.3,160V767M1119.2,160V767M1126.1,160V767M1133,160V767M1139.9,160V767M1146.8,160V767M1153.7,160V767M1160.6,160V767M1167.5,160V767M1174.4,160V767M1181.3,160V767M1188.2,160V767M1195.1,160V767M1202,160V767M1208.9,160V767M1215.8,160V767M1222.7,160V767M1229.6,160V767M1236.5,160V767M1243.4,160V767M1250.3,160V767M1257.2,160V767M1264.1,160V767M1271,160V767M1277.9,160V767M1284.8,160V767M1291.7,160V767M1298.6,160V767M1305.5,160V767M1312.4,160V767M1319.3,160V767M1326.2,160V767M1333.1,160V767M1340,160V767M1346.9,160V767M1353.8,160V767M1360.7,160V767M1367.6,160V767M1374.5,160V767M1381.4,160V767M1388.3,160V767M1395.2,160V767M1402.1,160V767M1409,160V767M1415.9,160V767M1422.8,160V767M1429.7,160V767M1436.6,160V767M1443.5,160V767M1450.4,160V767M1457.3,160V767M1464.2,160V767M1471.1,160V767M1478,160V767M1484.9,160V767M1491.8,160V767" stroke="#fff" stroke-opacity="0.8" stroke-width="1" fill="none" clip-path="url(#bc)"/>
<rect x="95.5" y="165" width="2" height="601.5" fill="#f7931a"/>
<rect x="1499.6" y="165" width="2" height="601.5" fill="#222"/>
<path d="M104.4,586.2L105.6,580L106.9,585L108.1,578.8L110,575.6L112.5,576.2L113.8,582.5L115,583.8L116.2,588.1L117.5,579.4L118.8,589.4L120.6,589.8L122.5,588.1L123.8,583.1L125.6,591.2L127.5,606.9L130,610L132.8,613.1L134,606.9L135.6,607.5L137.5,601.2L139,600.2L140.2,606.2L141.2,620L142.5,627.5L143.8,628.8L145.2,628.8L146,660L146.4,675L146.5,727L148.1,702.5L150,715L151.9,720.6L155,712.5L156.9,696.2L158.8,690L160.6,675L161.9,661.9L164,661.9L165.6,667.5L167.5,675L169.4,670.6L171.2,666.2L173.1,660L175,659.4L176.9,656.9L178.5,646.9L180.6,644.4L181.9,645L183.1,656.2L185,657.5L186.2,653.8L188.1,658.8L189.8,664.4L191.2,650.6L193.8,646.2L195.2,650L196.5,656.9L197.8,656.9L199.4,645L200.6,639.4L202.5,637.5L204.4,633.8L206.2,631.2L207.2,607.5L208.5,610.6L209.8,606.2L211.2,603.8L213.1,605L215,603.1L216.2,598.8L217.5,582.5L219,584.4L220.2,590L221.9,608.8L223.1,612.5L224.4,606.2L225.6,595L226.6,586.9L227.8,596.2L229.4,592.5L230.6,587.5L232.5,586.9L234,590.6L235.6,600.6L237.5,598.8L239.4,607.5L241.9,606.9L243.1,598.8L244.4,592.5L246.2,590L247.5,588.1L248.4,593.1L249.4,578.8L250.4,591.2L251.9,590.6L253.1,586.2L255,588.8L257.5,586.9L260.6,584.4L262.1,596.2L263.8,593.1L265.6,594.4L268.1,591.2L270.6,593.8L272.5,596.9L274.4,596.2L276,589.4L277.5,590L279.4,596.2L282.2,601.9L283.8,599.4L287.5,598.1L290,600.6L292.5,600.6L293.8,596.9L296.2,593.8L298.1,596.9L301.2,597.2L303.8,597.5L306.9,600L311.2,599.4L313.1,593.8L315,590.6L316.9,590.6L319,583.8L320.2,562.5L321.9,561.9L323.8,560.6L325,557.5L326.6,549.4L327.9,561.9L330,558.1L331.9,549.4L333.8,550.6L335.6,550L338.1,547.5L339.6,555.6L341.2,551.2L343.1,548.1L345.6,546.9L347.2,540.6L348.8,546.9L350.6,548.1L352.1,552.5L353.8,550L355.6,549.4L357.5,555.6L359.4,556.9L361.2,554.4L363.8,551.2L366.2,546.2L367.5,555L368.5,577.5L370,571.9L371.2,578.8L373.1,575.6L375,579.4L377.5,575L380,573.1L381.5,575.6L383.1,567.5L385,563.1L387.5,562.5L389.4,561.2L390.6,563.8L392.5,572.5L394,578.1L395.2,568.1L397.5,567.5L400,566.9L401.9,565.6L404.4,569.4L406.9,571.2L409.4,566.9L411.2,570L413.1,565L415.6,557.5L418.1,553.1L420.6,554.4L422.5,554.4L424.4,556.9L426.2,553.8L428.1,546.9L429.4,536.2L430.2,530.6L432.5,528.8L435,528.1L436.5,525L437.5,520L438.8,524.4L440.6,521.2L442.5,517.5L445,520.6L445.6,515L447.5,503.8L449,492.5L450.2,493.8L451.2,502.5L452.8,495L454.4,496.9L456.2,490L458.1,483.8L459.8,485L461.5,488.1L463.1,476.9L464.4,466.9L466.2,465.6L467.8,457.5L469.4,456.9L471,459.4L472.2,453.1L473.5,452.5L474.8,462.5L476,474.4L477.2,473.8L478.8,463.8L480,452.5L480.9,445.6L481.9,453.8L483.1,449.4L484.4,448.8L485.6,455L487.5,450L489,450.6L490.6,459.4L492.5,460L494.4,463.1L495.6,457.5L497.2,452.5L499.4,448.1L500.6,431.2L501.9,416.2L503.5,409.4L504.8,406.9L506.2,415L507.5,410L508.8,408.1L510,410.6L510.9,404L512.5,397.7L514.4,387.6L516.7,381.1L518.5,370L520.4,366.8L521.2,360L522.5,348.8L523.8,342.5L524.8,347.5L526.2,335L528.1,315L529.4,302.5L530.4,299.4L531.9,303.8L533.1,317.5L534.8,337.5L536.2,318.8L537.8,307.5L538.8,316.2L540,321.2L541.2,325L543.1,321.2L545,326.2L546.2,343.8L546.9,355L548.1,342.5L548.8,347.5L550.6,345L552.5,345L554.1,358.1L555,342.5L556.9,334.4L558.1,336.2L559.4,341.2L561.2,335L562.5,320L563.5,316.9L564.4,320L566.2,312.5L567.5,305L568.8,285L569.4,275.6L569,276.2L570.6,273.8L571.9,280L573.1,268.1L575.6,270.6L577.2,264.4L578.8,266.2L580.6,251.2L581.9,251.2L583.5,236.9L585.6,230.6L586.9,242.5L588.5,265L589.8,260.6L591.2,271.2L592.8,275L594.6,279.4L596.2,260L597.5,263.8L598.5,256.2L600,265L602.5,263.1L604,252.5L606.2,241.2L608.5,230.6L609.8,230L611,217.5L612.5,225L613.8,236.9L616.2,226.9L618.1,228.1L620.6,227.5L622.5,235L623.8,240.6L626.2,251.9L628.1,237.5L630,236.2L632.5,226.2L635,225L636.9,224.4L638.1,230L640,226.2L641.5,227.5L642.9,235L644.4,229.4L646.9,223.1L649,221.2L650.2,210.6L651.9,211.9L653.5,212.5L656,220L657.2,235L658.8,236.9L659.8,235.6L661.2,245L662.5,251.2L665.6,262.5L667.2,243.1L669,240L670.6,245L672.5,230L674.4,231.2L675.6,233.1L677.1,245.6L678.1,231.9L680,232.5L682.5,226.2L684,230L685,235.6L686.2,233.8L687.8,258.8L690,260L691.9,273.8L693.1,275.6L694.4,287.5L695.2,290L696,318.8L696.9,301.2L697.8,301.2L698.8,317.5L700,316.2L701.2,331.2L702.8,310.6L703.8,311.2L705,307.5L706.2,311.2L707.8,325L709,333.1L710.6,325L711.9,318.1L713.1,319.4L715.4,307.5L716.9,318.8L718.1,326.9L719,325.6L720.2,338.1L721.9,340L723.1,318.8L724.4,317.5L725.6,319.4L726.9,327.5L728.1,306.9L729.4,300.6L730.6,302.5L732.2,312.5L733.1,313.1L734.4,326.2L736.9,326.9L738.1,351.2L740,341.2L741.9,332.5L743.1,350.6L744.4,348.8L745.9,333.8L746.9,332.5L748.4,325L750,332.5L751.2,338.8L753.1,334.4L754.8,328.8L756.2,336.2L758.1,336.9L759.8,343.1L761.2,337.5L763.1,334.4L764.4,340L766.2,344.4L767.5,343.8L769,351.2L770.6,351.9L772.5,350L773.8,356.2L775,363.1L776,348.1L777.2,346.2L779.4,337.5L781.2,330L782.8,317.5L784,307.5L785,304.4L786.2,303.1L787.8,293.1L789,295L790.6,303.8L792.9,313.1L794.4,305L796,293.8L797.5,281.9L798.5,285.6L800.2,274.4L801.9,276.9L804,282.5L805.4,267.5L807.5,271.2L809.4,276.2L811,281.2L812.5,275L814.4,261.9L816.2,261.9L818.1,260.6L819.6,267.5L820.6,263.8L821.9,271.9L823.1,263.1L825.6,263.1L827.2,270.6L828.8,266.2L830.6,261.9L832.5,258.8L834.4,256.9L835.6,255L836.2,259.4L837.5,271.9L839.4,275L841.2,280.6L843.1,276.2L844.8,279.4L846.2,271.2L848.1,266.2L849.8,268.8L851.2,266.2L852.5,270.6L853.8,287.5L855,300.6L856.5,286.2L857.5,281.2L859.4,289.4L860,288.8L861.9,287.5L863.1,292.5L865,295L866.2,280L867.5,266.9L869.4,266.2L871.2,262.5L872.5,255L874,238.1L875.2,244.4L876.9,243.1L878.8,240L880.4,231.2L881.5,235.6L882.5,231.9L884,230.6L885.6,217.5L887.2,217.5L889,215.6L890.6,206.9L891.9,203.1L893.1,213.8L894.4,219.4L896.9,218.8L898.1,212.5L899.4,220L900.6,226.9L901.9,220L903.1,215L905,216.9L906.9,218.1L908.8,211.9L910,213.1L911.2,217.5L912.8,218.1L914,216.2L915,206.2L915.9,198.5L917.2,200.6L918.5,205.6L920,206.9L921.9,208.1L923.5,205L925,211.2L926.5,220.6L927.5,221.9L928.8,233.1L930,227.5L931,223.1L932.2,228.1L933.8,235L935,230.6L936.2,231.2L937.5,225.6L938.8,244.4L940.2,239.4L941.9,230L943.5,231.2L945,231.9L946.5,235L947.8,246.2L949,263.1L950.6,260L951.9,256.2L953.8,256.9L955,266.2L956.5,270.6L957.5,263.8L959,258.1L960.2,273.1L961.5,265L962.8,263.1L964,268.8L965.6,274.4L967.2,272.5L969.4,272.5L970.6,263.1L971.9,263.8L973.1,255.6L975,255L977.8,255.6L979,265L980.4,273.8L981.9,270L983.1,273.8L984.4,268.8L985.6,269.4L987.5,273.8L988.8,277.5L990,286.2L991.9,295.6L995,294.4L996.9,291.9L998.5,285L999.8,290L1001.2,288.1L1003.5,288.8L1005.2,292.5L1006.9,293.8L1008.8,300L1009.8,315L1011,330L1012.2,323.8L1014.4,320.6L1016.2,319.4L1018.8,314.4L1021.2,312.5L1023.8,310L1025.2,319.4L1026.5,318.8L1027.5,296.9L1029,294.4L1031,285L1033.8,283.1L1035.6,287.5L1037.2,291.9L1039.4,292.5L1040.6,290L1041.9,281.2L1043.1,285L1044.4,300L1045.6,303.1L1046.9,303.8L1048.1,312.5L1049.4,319.4L1050.4,312.5L1051.5,317.5L1053.1,311.2L1054.4,307.5L1055.6,308.8L1056.9,315L1058.1,290.6L1059.4,283.1L1061,285.6L1062.2,295L1063.5,306.9L1065,308.8L1066.9,313.8L1068.1,310L1069.4,293.8L1070.6,306.2L1072.5,309.4L1074.4,315L1075.9,306.2L1076.9,306.9L1078.1,298.8L1080,296.2L1081.9,293.1L1083.5,296.9L1085,298.1L1086.9,290.6L1088.8,283.8L1090.6,281.9L1091.9,272.5L1093.5,270L1095,268.8L1096.2,270.6L1097.5,276.9L1099.4,275.6L1101.2,274.4L1102.5,272.5L1104,276.9L1105.2,286.9L1106.5,287.5L1107.8,291.9L1109.4,290.6L1110.6,296.9L1111.5,305.6L1112.8,303.8L1113.8,298.1L1115,301.2L1116.9,300.6L1118.8,304.4L1120.2,298.1L1121.9,295.6L1123.1,297.5L1125,303.1L1126.9,305.6L1127.9,306.2L1129,300.6L1130.2,313.1L1131.5,309.4L1132.5,304.4L1133.8,308.8L1135.2,315L1136.5,311.9L1138.1,311.2L1139.4,315L1140.6,305L1141.9,321.2L1143.8,326.2L1145,331.2L1146,345L1146.9,358.1L1148.1,355L1149.4,368.8L1151.9,366.2L1153.5,357.5L1154.8,353.1L1156,361.9L1157.2,358.1L1158.4,370L1159.4,359.4L1160.6,366.9L1161.9,363.8L1163.1,359.4L1164.4,367.5L1165.6,363.8L1168.1,365.6L1169.8,371.2L1171.9,365.6L1173.5,350.6L1175,349.8L1176.2,362.5L1177.2,358.1L1178.8,363.5L1181.2,361.9L1182.8,352.5L1184,354.4L1185.6,360L1186.9,361.9L1188.8,370.6L1190,382.5L1191,405L1191.9,418.8L1192.8,421.2L1194,418.8L1195,432.5L1196,438.8L1196.9,439.4L1197.8,453.1L1198.8,437.5L1200.6,436.2L1202.1,435.6L1202.9,443.1L1204,431.9L1206.2,428.1L1208.1,432.5L1210,437.5L1211.9,441.9L1213.8,447.5L1215,450.6L1216.9,450L1218.1,440.6L1220,438.1L1221.9,426.9L1223.5,425L1225,429.4L1226.9,442.5L1228.4,450L1229.8,440L1231.9,433.8L1233.5,430.6L1234.4,435L1235.6,422.5L1236.9,411.9L1238.8,411.9L1240.6,414.4L1242.2,418.8L1243.5,418.8L1244.8,428.8L1246,431.2L1247.5,415L1248.8,407.5L1250.6,408.1L1253.1,411.9L1255.6,415.6L1257.2,418.1L1258.8,413.8L1260.6,414.4L1262.2,408.1L1263.8,413.1L1265,406.2L1266.9,403.1L1268.8,402.2L1270.6,403.8L1272.5,406.9L1274.4,413.1L1275.6,413.1L1276.5,434.4L1278.1,428.8L1280,427.5L1282.5,427.5L1284,426.9L1285.2,440.6L1286.9,443.1L1287.8,446.2L1289,440.6L1290.6,443.8L1292.5,441.2L1295,444.4L1297.2,443.1L1298.1,445L1299.1,455L1300.6,450.6L1301.9,449.4L1303.1,428.8L1304.4,426.9L1305.6,426.2L1307.1,420L1308.1,440.6L1309.4,441.2L1311,446.2L1313.1,441.2L1314,447.5L1315.6,448.8L1316.9,452.5L1318.4,458.1L1319.8,448.8L1321.5,451.9L1323.1,455L1325,451.2L1326.9,448.8L1328.8,447.5L1330.6,449.4L1332.2,452.5L1333.8,445L1335,439.4L1336.9,442.5L1338.8,447.5L1340.6,448.1L1342.5,451.9L1343.8,452.5L1346,448.8L1348.5,452.5L1351,447.5L1353.1,451.2L1355,452.5L1357.5,450.6L1359,447.5L1360.2,449.4L1361.5,439.4L1362.5,435L1363.8,439.4L1365,436.2L1366.5,434.4L1368.8,436.9L1370.6,438.1L1372.2,441.2L1373.8,431.9L1375.2,430L1376.9,433.1L1378.1,436.9L1379,448.8L1379.8,467.5L1380.6,489.4L1381.2,468.1L1382.1,468.8L1383.1,475L1384.4,477.5L1385.6,483.8L1387.5,476.9L1389.4,479.4L1391.2,478.8L1393.1,479.4L1394.4,485L1395.6,490L1396.9,485L1398.1,479.4L1400,480.6L1402.5,481.9L1404.8,485L1406,480.6L1407.2,473.1L1408.8,475.6L1410.6,475L1412.2,473.8L1413.8,475.6L1415,475L1416,477.5L1417.5,472.5L1419.4,473.8L1421.2,473.8L1422.5,471.2L1423.5,466.2L1425,465.6L1426.2,471.2L1427.5,479.4L1428.8,478.1L1430,478.8L1431.2,482.5L1432.5,476.2L1435,477.5L1438.1,476.9L1440.6,476.2L1442.5,480.6L1445,480L1446.9,480.6L1449.4,479.4L1451.2,477.5L1453.1,476.2L1455.6,475L1457.5,473.1L1459,470L1460.2,465L1461.2,457.5L1462.5,445L1463.5,436.2L1464.4,432.5L1466.2,431.9L1467.5,430.6L1469.4,435.6L1470.6,430L1471.9,416.9L1473.8,416.2L1475.6,415.6L1476.9,418.1L1478.1,413.8L1480,414.4L1481.9,413.8L1483.1,408.1L1484.8,416.2L1486.9,408.8L1488.8,410.6L1490.6,411.9L1492.5,416.2" stroke="#262626" stroke-width="1.85" fill="none" stroke-linejoin="round" stroke-linecap="round"/>
<g fill="none" stroke-width="1.4" stroke-dasharray="4 3.6">
<path d="M154.2,722V353.2H450L505,415M291.3,353.2L429.6,675" stroke="#10b67e"/>
<path d="M661,463.9L800,417.5H1089.5L1264.3,703.3M945.7,417.5V623" stroke="#fb0e58"/>
</g>
<path d="M1128.2,162.3H1454.3" stroke="#fc7b12" stroke-width="1.3" stroke-dasharray="2.5 1.5" fill="none"/>
<path d="M154.6,723.3L366.3,723.3M359.4,729.7L366.3,723.3L359.4,716.9" stroke="#10b67e" stroke-width="2.0" fill="none" stroke-linecap="round" stroke-linejoin="round"/>
<path d="M378.6,722.9L482,628.9M481.2,638.3L482,628.9L472.6,628.8" stroke="#10b67e" stroke-width="2.0" fill="none" stroke-linecap="round" stroke-linejoin="round"/>
<path d="M485.5,621.8L527.8,261.5M533.4,269.1L527.8,261.5L520.6,267.6" stroke="#10b67e" stroke-width="2.0" fill="none" stroke-linecap="round" stroke-linejoin="round"/>
<path d="M541.4,261.8L703.2,536.3M694.2,533.6L703.2,536.3L705.2,527.1" stroke="#fb0e58" stroke-width="2.0" fill="none" stroke-linecap="round" stroke-linejoin="round"/>
<path d="M710.2,544.6L1090,671.9M1081.4,675.8L1090,671.9L1085.5,663.6" stroke="#fb0e58" stroke-width="2.0" fill="none" stroke-linecap="round" stroke-linejoin="round"/>
<path d="M1103.1,672.4L1428,738.9M1420,743.8L1428,738.9L1422.6,731.2" stroke="#fb0e58" stroke-width="2.0" fill="none" stroke-linecap="round" stroke-linejoin="round"/>
<filter id="idf" x="0" y="0" width="1600" height="921" filterUnits="userSpaceOnUse" color-interpolation-filters="sRGB"><feOffset dx="0" dy="0"/></filter><g filter="url(#idf)">
<text x="32.74" y="75" font-size="41" fill="#333" stroke="#333" stroke-width="0.45" textLength="154.94" lengthAdjust="spacingAndGlyphs">Bitcoin:</text>
<text x="197.35" y="75" font-size="41" fill="#333" stroke="#333" stroke-width="0.45" textLength="173.02" lengthAdjust="spacingAndGlyphs">Realized</text>
<text x="381.03" y="75" font-size="41" fill="#333" stroke="#333" stroke-width="0.45" textLength="110.58" lengthAdjust="spacingAndGlyphs">Profit</text>
<text x="506.13" y="75" font-size="41" fill="#333" stroke="#333" stroke-width="0.45" textLength="119.14" lengthAdjust="spacingAndGlyphs">[USD]</text>
<text x="639.44" y="75" font-size="41" fill="#333" stroke="#333" stroke-width="0.45" textLength="70.24" lengthAdjust="spacingAndGlyphs">(7d</text>
<text x="720.55" y="75" font-size="41" fill="#333" stroke="#333" stroke-width="0.45" textLength="152.10" lengthAdjust="spacingAndGlyphs">Moving</text>
<text x="884.30" y="75" font-size="41" fill="#333" stroke="#333" stroke-width="0.45" textLength="181.68" lengthAdjust="spacingAndGlyphs">Average)</text>
<text x="106.16" y="146.2" font-size="12.6" font-weight="bold" fill="#333" textLength="131.03" lengthAdjust="spacingAndGlyphs">Realized Profit [USD]</text>
<text x="272.35" y="146.2" font-size="12.6" font-weight="bold" fill="#333" textLength="72.97" lengthAdjust="spacingAndGlyphs">Price [USD]</text>
<text x="153.14" y="295.5" font-size="21.3" font-weight="bold" fill="#10b67e" stroke="#10b67e" stroke-width="0.2" textLength="226.69" lengthAdjust="spacingAndGlyphs">Exponential Increase</text>
<text x="152.06" y="322.3" font-size="21.3" font-weight="bold" fill="#10b67e" stroke="#10b67e" stroke-width="0.2" textLength="243.37" lengthAdjust="spacingAndGlyphs">in Realized Profit After</text>
<text x="153.14" y="349" font-size="21.3" font-weight="bold" fill="#10b67e" stroke="#10b67e" stroke-width="0.2" textLength="311.94" lengthAdjust="spacingAndGlyphs">Breaking the Prior Cycle ATH</text>
<text x="780.95" y="383.8" font-size="21.3" font-weight="bold" fill="#fb0e58" stroke="#fb0e58" stroke-width="0.2" textLength="321.48" lengthAdjust="spacingAndGlyphs">Profitability Remains Elevated</text>
<text x="777.54" y="410.1" font-size="21.3" font-weight="bold" fill="#fb0e58" stroke="#fb0e58" stroke-width="0.2" textLength="334.00" lengthAdjust="spacingAndGlyphs">However the Trend is Declining</text>
<text x="1131.85" y="184.3" font-size="21.3" font-weight="bold" fill="#fc7b12" stroke="#fc7b12" stroke-width="0.2" textLength="314.54" lengthAdjust="spacingAndGlyphs">Initial Sign of Regime Change</text>
<text x="1152.93" y="210.9" font-size="21.3" font-weight="bold" fill="#fc7b12" stroke="#fc7b12" stroke-width="0.2" textLength="274.00" lengthAdjust="spacingAndGlyphs">However Profitability Still</text>
<text x="1161.23" y="237.5" font-size="21.3" font-weight="bold" fill="#fc7b12" stroke="#fc7b12" stroke-width="0.2" textLength="257.02" lengthAdjust="spacingAndGlyphs">Remains at 2020 Levels</text>
<text x="150.00" y="787.6" font-size="12.4" fill="#596069" textLength="44.50" lengthAdjust="spacingAndGlyphs">Apr &#x27;20</text>
<text x="267.50" y="787.6" font-size="12.4" fill="#596069" textLength="39.99" lengthAdjust="spacingAndGlyphs">Jul &#x27;20</text>
<text x="380.57" y="787.6" font-size="12.4" fill="#596069" textLength="45.70" lengthAdjust="spacingAndGlyphs">Oct &#x27;20</text>
<text x="498.00" y="787.6" font-size="12.4" fill="#596069" textLength="44.14" lengthAdjust="spacingAndGlyphs">Jan &#x27;21</text>
<text x="612.50" y="787.6" font-size="12.4" fill="#596069" textLength="44.50" lengthAdjust="spacingAndGlyphs">Apr &#x27;21</text>
<text x="729.75" y="787.6" font-size="12.4" fill="#596069" textLength="39.99" lengthAdjust="spacingAndGlyphs">Jul &#x27;21</text>
<text x="844.57" y="787.6" font-size="12.4" fill="#596069" textLength="45.70" lengthAdjust="spacingAndGlyphs">Oct &#x27;21</text>
<text x="962.00" y="787.6" font-size="12.4" fill="#596069" textLength="44.14" lengthAdjust="spacingAndGlyphs">Jan &#x27;22</text>
<text x="1076.50" y="787.6" font-size="12.4" fill="#596069" textLength="44.50" lengthAdjust="spacingAndGlyphs">Apr &#x27;22</text>
<text x="1194.00" y="787.6" font-size="12.4" fill="#596069" textLength="39.99" lengthAdjust="spacingAndGlyphs">Jul &#x27;22</text>
<text x="1307.32" y="787.6" font-size="12.4" fill="#596069" textLength="45.70" lengthAdjust="spacingAndGlyphs">Oct &#x27;22</text>
<text x="1425.00" y="787.6" font-size="12.4" fill="#596069" textLength="44.14" lengthAdjust="spacingAndGlyphs">Jan &#x27;23</text>
<text x="46.10" y="312.8" font-size="11.5" fill="#7a7a7a" textLength="40.72" lengthAdjust="spacingAndGlyphs">$3.60b</text>
<text x="46.10" y="463.2" font-size="11.5" fill="#7a7a7a" textLength="40.72" lengthAdjust="spacingAndGlyphs">$2.40b</text>
<text x="46.10" y="613.6" font-size="11.5" fill="#7a7a7a" textLength="40.72" lengthAdjust="spacingAndGlyphs">$1.20b</text>
<text x="72.30" y="764" font-size="11.5" fill="#7a7a7a" textLength="15.25" lengthAdjust="spacingAndGlyphs">$0</text>
<text x="1510.50" y="220.2" font-size="11.5" fill="#7a7a7a" textLength="28.43" lengthAdjust="spacingAndGlyphs">$60k</text>
<text x="1510.50" y="440.4" font-size="11.5" fill="#7a7a7a" textLength="28.43" lengthAdjust="spacingAndGlyphs">$20k</text>
<text x="1510.50" y="624" font-size="11.5" fill="#7a7a7a" textLength="21.33" lengthAdjust="spacingAndGlyphs">$8k</text>
<text x="1510.50" y="764" font-size="11.5" fill="#7a7a7a" textLength="21.33" lengthAdjust="spacingAndGlyphs">$4k</text>
<text x="35.20" y="879" font-size="15.2" fill="#8c8c8c" textLength="284.38" lengthAdjust="spacingAndGlyphs">© 2023 Glassnode. All Rights Reserved.</text>
</g>
<g transform="translate(1277.1,744.76) scale(0.2780)" stroke="#151515" stroke-width="10.4" fill="none" stroke-linejoin="round"><path d="M569.7,463.7a21.6,21.6 0 1 0 43.2,0a21.6,21.6 0 1 0 -43.2,0M612.9,437V486C612.9,499.5 603,506.3 591.3,506.3C582,506.3 575,502 571.5,495M637.1,415.5V490M656.9,463.7a21.6,21.6 0 1 0 43.2,0a21.6,21.6 0 1 0 -43.2,0M700.1,437V490M747.4,452.5C744.6,445.5 738.6,442.2 733.1,442.2C724.6,442.2 719.6,446.5 719.6,452.2C719.6,458.5 724.6,461 733.6,463.7C742.6,466.4 747.9,469 747.9,475.5C747.9,481.5 742.1,485.3 733.6,485.3C726.1,485.3 721.1,482 718.6,475.3M790.5,452.5C787.8,445.5 781.8,442.2 776.2,442.2C767.8,442.2 762.8,446.5 762.8,452.2C762.8,458.5 767.8,461 776.8,463.7C785.8,466.4 791,469 791,475.5C791,481.5 785.2,485.3 776.8,485.3C769.2,485.3 764.2,482 761.8,475.3M810.7,437V490M810.7,462C810.7,449 818,442.7 828.7,442.7C840,442.7 846.7,450 846.7,462V490M865.9,463.7a21.6,21.6 0 1 0 43.2,0a21.6,21.6 0 1 0 -43.2,0M926.3,463.7a21.6,21.6 0 1 0 43.2,0a21.6,21.6 0 1 0 -43.2,0M969.8,418.7V490M990.1,465.7H1031.3M1032.3,465.7A21.6,21.6 0 1 0 1028.4,476.1"/></g>
</svg></body></html>
